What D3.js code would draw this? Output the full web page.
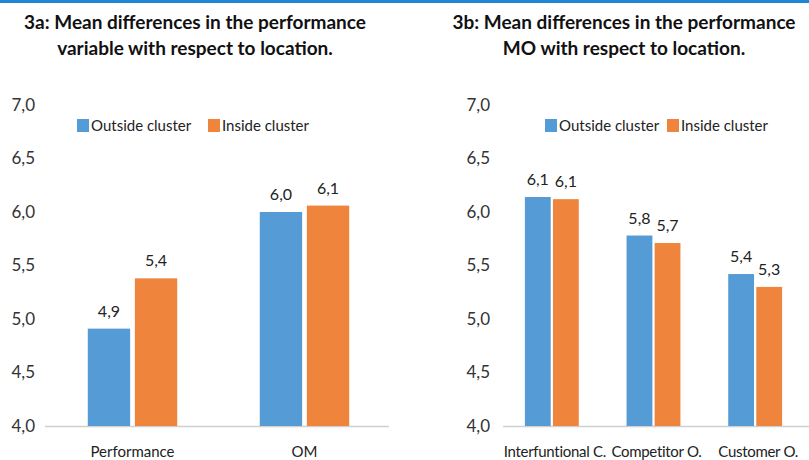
<!DOCTYPE html>
<html><head><meta charset="utf-8">
<script src="https://cdn.jsdelivr.net/npm/d3@7"></script>
<style>body{margin:0;background:#fff}svg{display:block}</style>
</head><body>
<svg id="c" width="809" height="460"></svg>
<script>
const seriesNames = ["Outside cluster", "Inside cluster"];
const colors = ["#559bd6", "#ef843c"];
const yTicks = [4.0, 4.5, 5.0, 5.5, 6.0, 6.5, 7.0];

const catsA = ["Performance", "OM"];
const outsideA = [4.91, 6.00];
const insideA = [5.38, 6.06];

const catsB = ["Interfuntional C.", "Competitor O.", "Customer O."];
const outsideB = [6.14, 5.78, 5.42];
const insideB = [6.12, 5.71, 5.30];

const titleA = ["3a: Mean differences in the performance", "variable with respect to location."];
const titleB = ["3b: Mean differences in the performance", "MO with respect to location."];

const svg = d3.select("#c");
const FONT = "Lato, 'Open Sans', sans-serif";
const fmt = v => d3.format(".1f")(v).replace(".", ",");

svg.append("rect").attr("x",0).attr("y",0).attr("width",809).attr("height",3).attr("fill","#1f86d6");

function panel(o) {
  const g = svg.append("g");
  const y = d3.scaleLinear().domain([4, 7]).range([426, 105]);
  const x = d3.scaleBand().domain(o.cats).range([o.x0, o.x1]).paddingInner(o.pad).paddingOuter(o.pad/2);
  const xs = d3.scaleBand().domain([0,1]).range([0, x.bandwidth()]).paddingInner(o.inner);

  o.title.forEach((t,i) => g.append("text").attr("x", o.tx).attr("y", 29 + i*26)
    .attr("text-anchor","middle").attr("font-family",FONT).attr("font-weight","bold")
    .attr("font-size",19).attr("fill","#111").text(t));

  const ya = g.append("g").attr("transform", `translate(${o.yl},0)`)
    .call(d3.axisLeft(y).tickValues(yTicks).tickSize(0).tickPadding(0).tickFormat(fmt));
  ya.select(".domain").remove();
  ya.selectAll("text").attr("font-family",FONT).attr("font-size",17).attr("fill","#333");

  g.append("line").attr("x1", o.ax0).attr("x2", o.ax1).attr("y1", y(4)+0.5).attr("y2", y(4)+0.5)
    .attr("stroke","#d0d0d0").attr("stroke-width",1.5);

  o.cats.forEach((c,i) => {
    [o.out[i], o.ins[i]].forEach((v,s) => {
      const bx = x(c) + xs(s);
      g.append("rect").attr("x", bx).attr("y", y(v)).attr("width", xs.bandwidth())
        .attr("height", y(4) - y(v)).attr("fill", colors[s]);
      g.append("text").attr("x", bx + xs.bandwidth()/2).attr("y", y(v) - 12)
        .attr("text-anchor","middle").attr("font-family",FONT).attr("font-size",16)
        .attr("fill","#222").text(fmt(v));
    });
    g.append("text").attr("x", x(c) + x.bandwidth()/2 + o.cdx).attr("y", 457)
      .attr("text-anchor","middle").attr("font-family",FONT).attr("font-size",15)
      .attr("letter-spacing", o.ls).attr("fill","#222").text(c);
  });

  seriesNames.forEach((n,s) => {
    g.append("rect").attr("x", o.lg[s]).attr("y", 119).attr("width",12).attr("height",13).attr("fill",colors[s]);
    g.append("text").attr("x", o.lg[s] + 14).attr("y", 131).attr("font-family",FONT)
      .attr("font-size",15).attr("fill","#222").text(n);
  });
}

panel({cats: catsA, out: outsideA, ins: insideA, title: titleA, tx: 195,
  x0: 46.5, x1: 390.5, pad: 0.48, inner: 0.1, yl: 35, ax0: 45, ax1: 389, lg: [77, 208], cdx: 0, ls: 0});
panel({cats: catsB, out: outsideB, ins: insideB, title: titleB, tx: 624,
  x0: 501, x1: 806, pad: 0.47, inner: 0.08, yl: 490, ax0: 503, ax1: 809, lg: [545, 667], cdx: 3, ls: -0.3});
</script>
</body></html>
